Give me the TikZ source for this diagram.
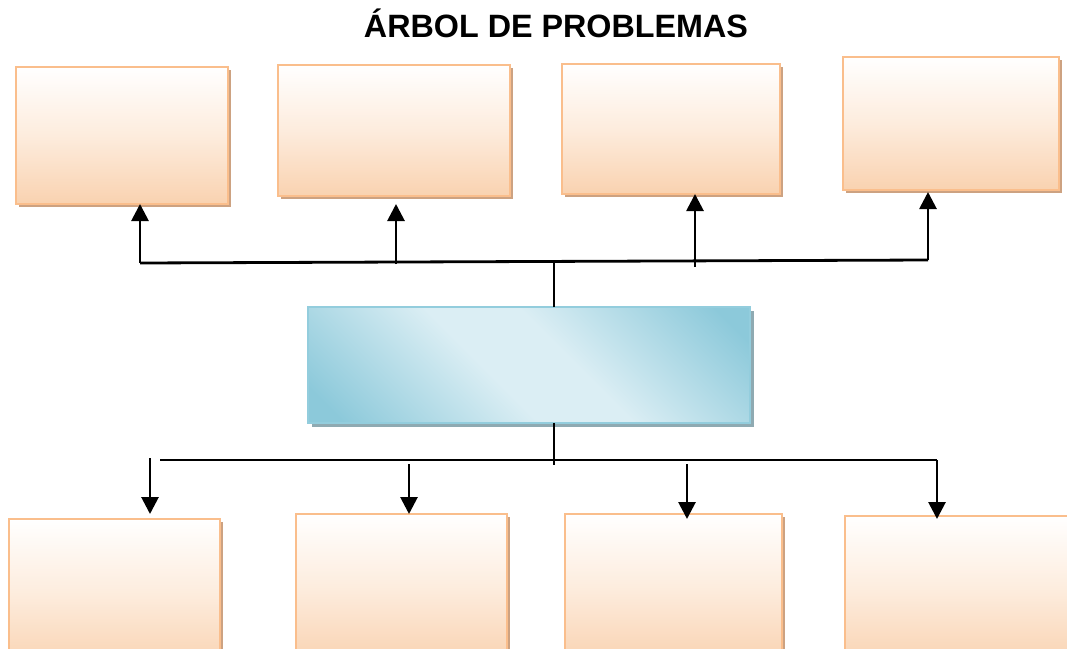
\documentclass[tikz,border=0pt]{standalone}
\usepackage{fontspec}
\setmainfont{Liberation Sans}
\usetikzlibrary{shadows,arrows.meta}
\definecolor{obord}{HTML}{FABE8C}
\definecolor{ofill}{HTML}{F9D2B0}
\definecolor{omid}{HTML}{FDECDD}
\definecolor{oshad}{HTML}{CDA281}
\definecolor{bbord}{HTML}{93CDDD}
\definecolor{bdark}{HTML}{8CC9DA}
\definecolor{blight}{HTML}{DBEEF4}
\definecolor{bshad}{HTML}{8FAAB2}
\pgfdeclareverticalshading{bluesh}{100bp}{color(0bp)=(bdark); color(19bp)=(bdark); color(44bp)=(blight); color(56bp)=(blight); color(81bp)=(bdark); color(100bp)=(bdark)}
\begin{document}
\begin{tikzpicture}[x=1pt,y=-1pt,
  obox/.style={draw=obord, line width=2.6pt, top color=white, bottom color=ofill, middle color=omid,
    inner sep=0pt, outer sep=0pt, anchor=north west,
    drop shadow={shadow xshift=3pt, shadow yshift=-3pt, fill=oshad, opacity=1}},
  bbox/.style={draw=bbord, line width=2.6pt, shading=bluesh, shading angle=-45,
    inner sep=0pt, outer sep=0pt, anchor=north west,
    drop shadow={shadow xshift=4pt, shadow yshift=-4pt, fill=bshad, opacity=1}},
  conn/.style={line width=2.8pt, draw=black},
  arr/.style={conn, -{Triangle[length=17pt,width=17pt]}}]
\clip (0,0) rectangle (1067,648);
\fill[white] (0,0) rectangle (1067,648);
\node[font=\fontsize{32.3}{36}\selectfont\bfseries, anchor=base] (title) at (556,37) {ÁRBOL DE PROBLEMAS};
% top boxes
\node[obox, minimum width=212pt, minimum height=137pt] (t1) at (16,67) {};
\node[obox, minimum width=232pt, minimum height=131pt] (t2) at (278,65) {};
\node[obox, minimum width=218pt, minimum height=130pt] (t3) at (562,64) {};
\node[obox, minimum width=216pt, minimum height=133pt] (t4) at (843,57) {};
% centre box
\node[bbox, minimum width=442pt, minimum height=116pt] (c) at (308,307) {};
% bottom boxes
\node[obox, minimum width=211pt, minimum height=150pt] (b1) at (9,519) {};
\node[obox, minimum width=211pt, minimum height=150pt] (b2) at (296,514) {};
\node[obox, minimum width=217pt, minimum height=150pt] (b3) at (565,514) {};
\node[obox, minimum width=240pt, minimum height=150pt] (b4) at (845,516) {};
% top connectors
\coordinate (hl) at (140,263);
\coordinate (hr) at (928,260);
\coordinate (a2) at (396,264);
\coordinate (a3) at (695,267);
\coordinate (ct) at (554,262);
\draw[conn] (hl) -- (hr);
\draw[conn] (c.north -| ct) -- (ct);
\draw[arr] (hl) -- (hl |- t1.south);
\draw[arr, shorten >=8pt] (a2) -- (a2 |- t2.south);
\draw[arr] (a3) -- (a3 |- t3.south);
\draw[arr, shorten >=2pt] (hr) -- (hr |- t4.south);
% bottom connectors
\coordinate (cb) at (554,465);
\coordinate (bl) at (160,460);
\coordinate (br) at (937,460);
\coordinate (d1) at (150,458);
\coordinate (d2) at (409,464);
\coordinate (d3) at (687,464);
\draw[conn] (c.south -| cb) -- (cb);
\draw[conn] (bl) -- (br);
\draw[arr, shorten >=5pt] (d1) -- (d1 |- b1.north);
\draw[arr] (d2) -- (d2 |- b2.north);
\draw[arr, shorten >=-5pt] (d3) -- (d3 |- b3.north);
\draw[arr, shorten >=-3pt] (br) -- (br |- b4.north);
\end{tikzpicture}
\end{document}
